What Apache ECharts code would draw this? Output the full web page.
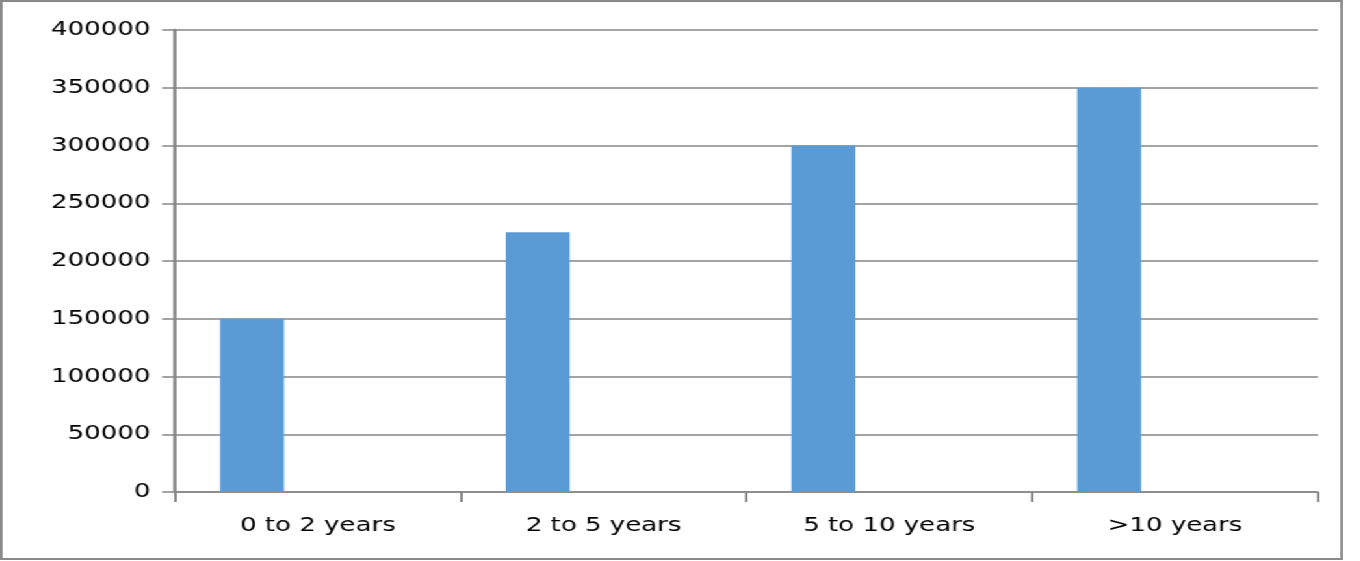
<!DOCTYPE html>
<html>
<head>
<meta charset="utf-8">
<script src="https://cdn.jsdelivr.net/npm/echarts@6/dist/echarts.min.js"></script>
<style>
  html, body { margin: 0; padding: 0; background: #fff; width: 1360px; height: 561px; overflow: hidden; }
  #wrap { position: absolute; left: 0; top: 0; width: 1033px; height: 560px; transform: scaleX(1.3); transform-origin: 0 0; }
  #chart { position: absolute; left: 0; top: 0; width: 1033px; height: 560px; }
  #frame { position: absolute; left: 0; top: 0; width: 1033px; height: 560px; box-sizing: border-box; border: 2px solid #898989; pointer-events: none; }
</style>
</head>
<body>
<div id="wrap"><div id="chart"></div><div id="frame"></div></div>
<script>
const categories = ['0 to 2 years', '2 to 5 years', '5 to 10 years', '>10 years'];
const values = [150000, 225000, 300000, 350000];
const emptySeries = ['-', '-', '-', '-'];
const yMin = 0, yMax = 400000, yStep = 50000;

const chart = echarts.init(document.getElementById('chart'), null, { renderer: 'canvas' });
const font = 'DejaVu Sans';
chart.setOption({
  animation: false,
  backgroundColor: '#ffffff',
  grid: { left: 134.6, right: 19.2, top: 30, bottom: 68, containLabel: false },
  xAxis: {
    type: 'category',
    data: categories,
    boundaryGap: true,
    axisLine: { show: true, lineStyle: { color: '#868686', width: 1.5 } },
    axisTick: { show: true, length: 10, lineStyle: { color: '#868686', width: 2 } },
    axisLabel: { color: '#000', fontFamily: font, fontSize: 20, margin: 24 },
    splitLine: { show: false }
  },
  yAxis: {
    type: 'value',
    min: yMin, max: yMax, interval: yStep,
    axisLine: { show: true, lineStyle: { color: '#868686', width: 2.5 } },
    axisTick: { show: true, length: 10, lineStyle: { color: '#868686', width: 1.5 } },
    axisLabel: { color: '#000', fontFamily: font, fontSize: 20, margin: 19, formatter: (v) => String(v) },
    splitLine: { show: true, lineStyle: { color: '#868686', width: 1.5 } }
  },
  series: [
    { type: 'bar', data: values, barWidth: 49.2, barGap: '106%', itemStyle: { color: '#5B9BD5', borderWidth: 0 } },
    { type: 'bar', data: emptySeries, barWidth: 49.2, itemStyle: { color: '#ED7D31', borderWidth: 0 } }
  ]
});
</script>
</body>
</html>
